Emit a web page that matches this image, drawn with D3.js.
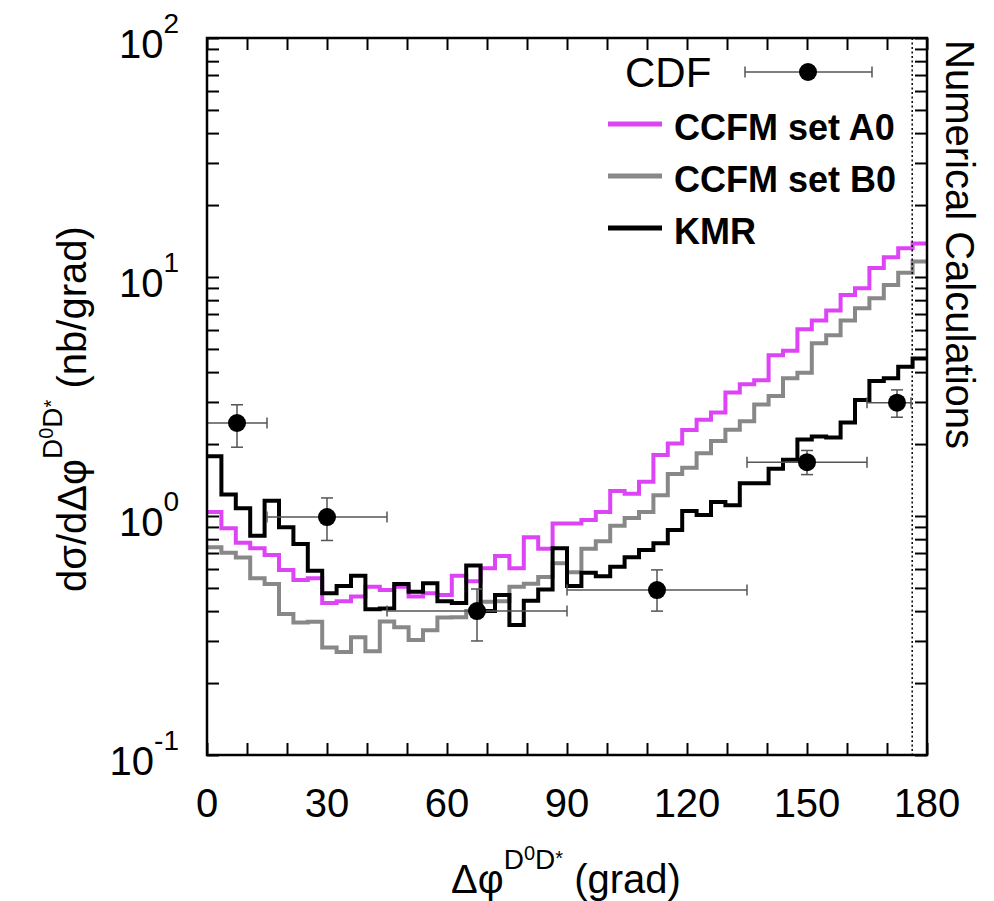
<!DOCTYPE html>
<html><head><meta charset="utf-8">
<script src="https://cdn.jsdelivr.net/npm/d3@7"></script>
<style>body{margin:0;background:#fff}</style>
</head><body>
<svg id="c" width="994" height="901" xmlns="http://www.w3.org/2000/svg"></svg>
<script>
// ---------- data ----------
const binLow = d3.range(50).map(i => +(i * 3.6).toFixed(1));   // 50 bins of 3.6 grad
const xEnd = 180;
const ccfmA0 = [1.04,0.888,0.773,0.733,0.687,0.595,0.54,0.549,0.433,0.44,
  0.46,0.506,0.49,0.506,0.46,0.475,0.467,0.562,0.533,0.604,
  0.68,0.604,0.814,0.73,0.93,0.93,0.962,1.04,1.273,1.24,
  1.392,1.8,2.01,2.29,2.53,2.71,3.29,3.56,3.7,4.71,
  4.91,6.04,6.57,7.24,8.41,8.97,10.9,12.1,13.2,13.8];
const ccfmB0 = [0.74,0.702,0.671,0.549,0.52,0.389,0.358,0.361,0.282,0.27,
  0.311,0.272,0.362,0.342,0.303,0.333,0.376,0.377,0.40,0.438,
  0.44,0.506,0.521,0.555,0.634,0.582,0.73,0.785,0.91,0.98,
  1.04,1.22,1.5,1.59,1.83,2.06,2.295,2.49,2.93,3.18,
  3.77,3.98,5.28,5.71,6.57,7.4,8.14,9.26,10.43,11.6];
const kmr = [1.78,1.23,1.077,0.827,1.159,0.897,0.764,0.59,0.475,0.51,
  0.563,0.407,0.41,0.52,0.482,0.523,0.44,0.433,0.62,0.40,
  0.467,0.35,0.442,0.492,0.733,0.51,0.579,0.559,0.613,0.672,
  0.72,0.77,0.874,1.05,1.01,1.145,1.11,1.37,1.37,1.575,
  1.72,2.09,2.15,2.13,2.46,3.06,3.67,3.77,4.21,4.56];
const cdfX   = [7.5, 30, 67.5, 112.5, 150, 172.5];
const cdfXlo = [0, 15, 45, 90, 135, 165];
const cdfXhi = [15, 45, 90, 135, 165, 176];
const cdfY   = [2.45, 0.99, 0.40, 0.49, 1.68, 2.98];
const cdfYlo = [1.94, 0.79, 0.30, 0.40, 1.49, 2.59];
const cdfYhi = [2.92, 1.19, 0.495, 0.595, 1.88, 3.37];
const seriesNames = ["CCFM set A0", "CCFM set B0", "KMR"];
const xTickLabels = [0, 30, 60, 90, 120, 150, 180];
const xMinorTicks = d3.range(0, 181, 10);
const yDecades = [-1, 0, 1, 2];
const cutoff = 176.3;

// ---------- layout ----------
const FONT = "'Liberation Sans', Arial, Helvetica, sans-serif";
const svg = d3.select("#c").style("font-family", FONT);
const m = {l: 207, t: 38, r: 927, b: 755};
const x = d3.scaleLinear().domain([0, 180]).range([m.l, m.r]);
const y = d3.scaleLog().domain([0.1, 100]).range([m.b, m.t]);

const colors = {"CCFM set A0": "#dd44f5", "CCFM set B0": "#888888", "KMR": "#000000"};
const seriesData = {"CCFM set A0": ccfmA0, "CCFM set B0": ccfmB0, "KMR": kmr};

svg.append("clipPath").attr("id", "clip").append("rect")
  .attr("x", m.l).attr("y", m.t).attr("width", m.r - m.l).attr("height", m.b - m.t);

const plot = svg.append("g").attr("clip-path", "url(#clip)");
const line = d3.line().x(d => x(d[0])).y(d => y(d[1])).curve(d3.curveStepAfter);
seriesNames.forEach(name => {
  const v = seriesData[name];
  const pts = binLow.map((b, i) => [b, v[i]]).concat([[xEnd, v[v.length - 1]]]);
  plot.append("path").attr("d", line(pts)).attr("fill", "none")
    .attr("stroke", colors[name]).attr("stroke-width", 4).attr("stroke-linejoin", "miter");
});

// dotted cutoff line
svg.append("line").attr("x1", x(cutoff)).attr("x2", x(cutoff)).attr("y1", m.t).attr("y2", m.b)
  .attr("stroke", "#000").attr("stroke-width", 1.5).attr("stroke-dasharray", "2,2.5");

// CDF points
const ebColor = "#555";
const pg = svg.append("g");
cdfX.forEach((cx, i) => {
  const px = x(cx), py = y(cdfY[i]);
  const xl = x(cdfXlo[i]), xh = x(cdfXhi[i]);
  const yl = y(cdfYlo[i]), yh = y(cdfYhi[i]);
  pg.append("line").attr("x1", xl).attr("x2", xh).attr("y1", py).attr("y2", py).attr("stroke", ebColor).attr("stroke-width", 1.5);
  pg.append("line").attr("x1", px).attr("x2", px).attr("y1", yl).attr("y2", yh).attr("stroke", ebColor).attr("stroke-width", 1.5);
  [xl, xh].forEach(xx => pg.append("line").attr("x1", xx).attr("x2", xx).attr("y1", py - 5.5).attr("y2", py + 5.5).attr("stroke", ebColor).attr("stroke-width", 1.5));
  [yl, yh].forEach(yy => pg.append("line").attr("x1", px - 6).attr("x2", px + 6).attr("y1", yy).attr("y2", yy).attr("stroke", ebColor).attr("stroke-width", 1.5));
  pg.append("circle").attr("cx", px).attr("cy", py).attr("r", 9).attr("fill", "#000");
});

// ---------- axes ----------
const tickLen = 12;
function styleAxis(g) {
  g.select(".domain").remove();
  g.selectAll(".tick line").attr("stroke", "#000").attr("stroke-width", 2);
  g.selectAll(".tick text").remove();
}
const yMinor = [];
yDecades.forEach(e => { for (let k = 1; k <= 9; k++) { const v = k * Math.pow(10, e); if (v >= 0.1 && v <= 100) yMinor.push(v); } });

svg.append("g").attr("transform", `translate(0,${m.b})`)
  .call(d3.axisBottom(x).tickValues(xMinorTicks).tickSize(-tickLen).tickFormat("")).call(styleAxis);
svg.append("g").attr("transform", `translate(0,${m.t})`)
  .call(d3.axisTop(x).tickValues(xMinorTicks).tickSize(-tickLen).tickFormat("")).call(styleAxis);
svg.append("g").attr("transform", `translate(${m.l},0)`)
  .call(d3.axisLeft(y).tickValues(yMinor).tickSize(-tickLen).tickFormat("")).call(styleAxis);
svg.append("g").attr("transform", `translate(${m.r},0)`)
  .call(d3.axisRight(y).tickValues(yMinor).tickSize(-tickLen).tickFormat("")).call(styleAxis);

svg.append("rect").attr("x", m.l).attr("y", m.t).attr("width", m.r - m.l).attr("height", m.b - m.t)
  .attr("fill", "none").attr("stroke", "#000").attr("stroke-width", 2.5);

// x tick labels
svg.append("g").selectAll("text").data(xTickLabels).join("text")
  .attr("x", d => x(d)).attr("y", 817).attr("text-anchor", "middle")
  .attr("font-size", 40).text(d => d);

// y tick labels 10^n
yDecades.forEach(e => {
  const t = svg.append("text").attr("x", 179).attr("y", y(Math.pow(10, e)) + 20)
    .attr("text-anchor", "end").attr("font-size", 40);
  t.append("tspan").text("10");
  t.append("tspan").attr("font-size", 28).attr("dy", -25).text(e < 0 ? "-" + Math.abs(e) : e);
});

// x title
const xt = svg.append("text").attr("x", 451).attr("y", 893).attr("font-size", 40);
xt.append("tspan").text("Δφ");
xt.append("tspan").attr("font-size", 28).attr("dy", -24).text("D");
xt.append("tspan").attr("font-size", 20).attr("dy", -9).text("0");
xt.append("tspan").attr("font-size", 28).attr("dy", 9).text("D");
xt.append("tspan").attr("font-size", 20).attr("dy", -4).text("*");
xt.append("tspan").attr("font-size", 40).attr("dy", 28).text(" (grad)");

// y title
const yt = svg.append("text").attr("transform", "translate(86,592) rotate(-90)").attr("font-size", 40);
yt.append("tspan").text("dσ/dΔφ");
yt.append("tspan").attr("font-size", 28).attr("dy", -24).text("D");
yt.append("tspan").attr("font-size", 20).attr("dy", -9).text("0");
yt.append("tspan").attr("font-size", 28).attr("dy", 9).text("D");
yt.append("tspan").attr("font-size", 20).attr("dy", -4).text("*");
yt.append("tspan").attr("font-size", 40).attr("dy", 28).text(" (nb/grad)");

// right side label
svg.append("text").attr("transform", "translate(946,40) rotate(90)").attr("font-size", 40)
  .text("Numerical Calculations");

// ---------- legend ----------
svg.append("text").attr("x", 625).attr("y", 87).attr("font-size", 42).text("CDF");
const lgY = 72, lgL = 745, lgR = 872, lgC = 808;
svg.append("line").attr("x1", lgL).attr("x2", lgR).attr("y1", lgY).attr("y2", lgY).attr("stroke", ebColor).attr("stroke-width", 1.5);
[lgL, lgR].forEach(xx => svg.append("line").attr("x1", xx).attr("x2", xx).attr("y1", lgY - 5.5).attr("y2", lgY + 5.5).attr("stroke", ebColor).attr("stroke-width", 1.5));
svg.append("circle").attr("cx", lgC).attr("cy", lgY).attr("r", 9).attr("fill", "#000");

seriesNames.forEach((name, i) => {
  const ly = 124 + i * 52;
  svg.append("line").attr("x1", 608).attr("x2", 662).attr("y1", ly).attr("y2", ly)
    .attr("stroke", colors[name]).attr("stroke-width", 5);
  svg.append("text").attr("x", 674).attr("y", ly + 16).attr("font-size", 36)
    .attr("font-weight", "bold").text(name);
});
</script>
</body></html>
